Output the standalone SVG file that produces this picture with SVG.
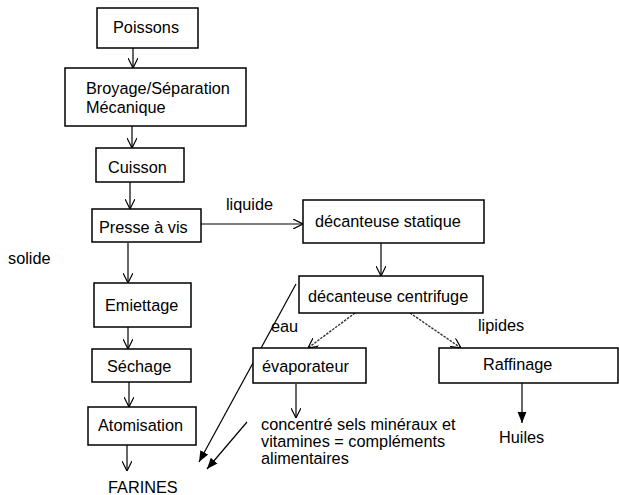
<svg xmlns="http://www.w3.org/2000/svg" width="619" height="495" viewBox="0 0 619 495">
<defs>
<style>
.box{fill:#fff;stroke:#000;stroke-width:1.5}
.t{font-family:"Liberation Sans",Arial,sans-serif;font-size:16.3px;fill:#000}
.ln{stroke:#000;stroke-width:1.2;fill:none}
.dot{stroke:#333;stroke-width:1.4;fill:none;stroke-dasharray:2.5 1.2}
</style>
<marker id="v" viewBox="0 0 10 10" refX="10" refY="5" markerWidth="10" markerHeight="10" markerUnits="userSpaceOnUse" orient="auto">
<path d="M0,0 L10,5 L0,10" fill="none" stroke="#000" stroke-width="1.2"/>
</marker>
<marker id="f" viewBox="0 0 10 10" refX="10" refY="5" markerWidth="11" markerHeight="11" markerUnits="userSpaceOnUse" orient="auto">
<path d="M0,1 L10,5 L0,9 Z" fill="#000"/>
</marker>
</defs>
<rect width="619" height="495" fill="#fff"/>
<g id="connectors">
<line class="ln" x1="133" y1="48" x2="133" y2="68" marker-end="url(#v)"/>
<line class="ln" x1="132" y1="126" x2="132" y2="148" marker-end="url(#v)"/>
<line class="ln" x1="130" y1="182" x2="130" y2="209" marker-end="url(#v)"/>
<line class="ln" x1="201" y1="224" x2="303" y2="224" marker-end="url(#v)"/>
<line class="ln" x1="381" y1="243" x2="381" y2="276" marker-end="url(#v)"/>
<line class="ln" x1="128" y1="243" x2="128" y2="283" marker-end="url(#v)"/>
<line class="ln" x1="128" y1="327" x2="128" y2="349" marker-end="url(#v)"/>
<line class="ln" x1="129" y1="382" x2="129" y2="407" marker-end="url(#v)"/>
<line class="ln" x1="127" y1="445" x2="127" y2="471" marker-end="url(#v)"/>
<line class="dot" x1="355" y1="313" x2="308" y2="348" marker-end="url(#v)"/>
<line class="dot" x1="410" y1="313" x2="461" y2="348" marker-end="url(#v)"/>
<line class="ln" x1="296" y1="384" x2="296" y2="418" marker-end="url(#v)"/>
<line class="ln" x1="522" y1="383" x2="522" y2="423" marker-end="url(#f)"/>
<line class="ln" x1="296" y1="284" x2="199" y2="462" marker-end="url(#f)"/>
<line class="ln" x1="247" y1="422" x2="207" y2="469" marker-end="url(#f)"/>
</g>
<g id="poissons"><rect class="box" x="97" y="8" width="101" height="40"/><text class="t" x="113" y="33">Poissons</text></g>
<g id="broyage"><rect class="box" x="65" y="68" width="181" height="58"/><text class="t" x="86" y="94">Broyage/Séparation</text><text class="t" x="86" y="113">Mécanique</text></g>
<g id="cuisson"><rect class="box" x="96" y="148" width="88" height="34"/><text class="t" x="108" y="173">Cuisson</text></g>
<g id="presse"><rect class="box" x="92" y="209" width="109" height="33"/><text class="t" x="99" y="233">Presse à vis</text></g>
<g id="liquide"><text class="t" x="226" y="210">liquide</text></g>
<g id="solide"><text class="t" x="8" y="264">solide</text></g>
<g id="statique"><rect class="box" x="303" y="200" width="181" height="43"/><text class="t" x="315" y="227">décanteuse statique</text></g>
<g id="centrifuge"><rect class="box" x="299" y="276" width="184" height="37"/><text class="t" x="308" y="302">décanteuse centrifuge</text></g>
<g id="eau"><text class="t" x="271" y="332">eau</text></g>
<g id="lipides"><text class="t" x="478" y="331">lipides</text></g>
<g id="emiettage"><rect class="box" x="94" y="283" width="97" height="44"/><text class="t" x="105" y="311">Emiettage</text></g>
<g id="sechage"><rect class="box" x="92" y="349" width="99" height="33"/><text class="t" x="107" y="372">Séchage</text></g>
<g id="atomisation"><rect class="box" x="88" y="407" width="108" height="38"/><text class="t" x="98" y="431">Atomisation</text></g>
<g id="farines"><text class="t" x="108" y="493">FARINES</text></g>
<g id="evaporateur"><rect class="box" x="253" y="348" width="113" height="35"/><text class="t" x="262" y="372">évaporateur</text></g>
<g id="concentre"><text class="t" x="261" y="430">concentré sels minéraux et</text><text class="t" x="261" y="447">vitamines = compléments</text><text class="t" x="261" y="464">alimentaires</text></g>
<g id="raffinage"><rect class="box" x="439" y="348" width="179" height="35"/><text class="t" x="483" y="370">Raffinage</text></g>
<g id="huiles"><text class="t" x="499" y="443">Huiles</text></g>
</svg>
